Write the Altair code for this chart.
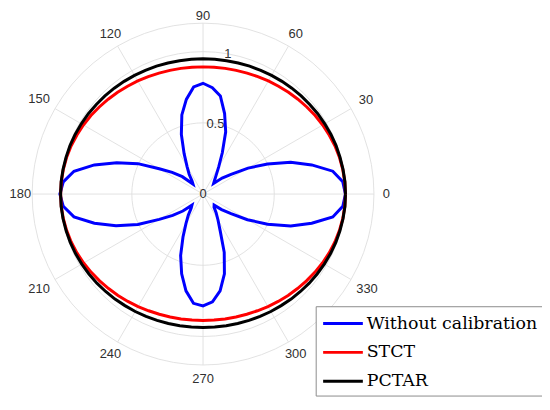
import altair as alt
import pandas as pd

# ---- data (polar: angle in degrees, radius) ----
angles = [0, 5, 10, 15, 20, 25, 30, 35, 40, 45, 50, 55, 60, 65, 70, 75, 80, 85, 90,
          95, 100, 105, 110, 115, 120, 125, 130, 135, 140, 145, 150, 155, 160, 165, 170, 175, 180,
          185, 190, 195, 200, 205, 210, 215, 220, 225, 230, 235, 240, 245, 250, 255, 260, 265, 270,
          275, 280, 285, 290, 295, 300, 305, 310, 315, 320, 325, 330, 335, 340, 345, 350, 355, 360]

without_calibration = [
    1.000, 0.985, 0.925, 0.790, 0.655, 0.500, 0.365, 0.240, 0.175, 0.105, 0.125, 0.160, 0.220, 0.320, 0.465, 0.585, 0.700, 0.750, 0.778,
    0.755, 0.675, 0.575, 0.445, 0.315, 0.225, 0.170, 0.120, 0.100, 0.190, 0.265, 0.355, 0.505, 0.645, 0.790, 0.920, 0.985, 1.005,
    0.985, 0.920, 0.790, 0.650, 0.505, 0.355, 0.260, 0.185, 0.110, 0.130, 0.180, 0.240, 0.333, 0.460, 0.580, 0.690, 0.770, 0.785,
    0.760, 0.690, 0.580, 0.435, 0.285, 0.210, 0.160, 0.120, 0.110, 0.170, 0.240, 0.360, 0.500, 0.655, 0.790, 0.925, 0.985, 1.000]

stct = [
    1.000, 0.999, 0.996, 0.992, 0.986, 0.978, 0.970, 0.961, 0.951, 0.942, 0.933, 0.924, 0.917, 0.910, 0.904, 0.899, 0.896, 0.894, 0.893,
    0.894, 0.896, 0.899, 0.904, 0.910, 0.917, 0.924, 0.933, 0.942, 0.951, 0.961, 0.970, 0.978, 0.986, 0.992, 0.996, 0.999, 1.000,
    0.999, 0.996, 0.991, 0.985, 0.977, 0.968, 0.958, 0.948, 0.938, 0.929, 0.920, 0.912, 0.904, 0.898, 0.893, 0.890, 0.888, 0.887,
    0.888, 0.890, 0.893, 0.898, 0.904, 0.912, 0.920, 0.929, 0.938, 0.948, 0.958, 0.968, 0.977, 0.985, 0.991, 0.996, 0.999, 1.000]

pctar = [
    1.000, 1.000, 0.998, 0.996, 0.994, 0.991, 0.987, 0.983, 0.978, 0.974, 0.970, 0.966, 0.962, 0.958, 0.956, 0.953, 0.951, 0.950, 0.950,
    0.950, 0.951, 0.953, 0.956, 0.958, 0.962, 0.966, 0.970, 0.974, 0.978, 0.983, 0.987, 0.991, 0.994, 0.996, 0.998, 1.000, 1.000,
    1.000, 0.998, 0.995, 0.992, 0.988, 0.983, 0.978, 0.973, 0.967, 0.962, 0.956, 0.952, 0.947, 0.944, 0.941, 0.939, 0.937, 0.937,
    0.937, 0.939, 0.941, 0.944, 0.947, 0.952, 0.956, 0.962, 0.967, 0.973, 0.978, 0.983, 0.988, 0.992, 0.995, 0.998, 1.000, 1.000]

series_names = ["Without calibration", "STCT", "PCTAR"]
series_colors = ["#0000ff", "#ff0000", "#000000"]

ring_radii = [0.5, 1.0, 1.2]          # grid circles (1.2 = outer edge)
spoke_angles = [0, 30, 60, 90, 120, 150, 180, 210, 240, 270, 300, 330]
theta_labels = ["0", "30", "60", "90", "120", "150", "180", "210", "240", "270", "300", "330"]
r_tick_values = [0, 0.5, 1]
r_tick_labels = ["0", "0.5", "1"]
r_tick_angle = 80
r_max = 1.2

# ---- layout ----
W, H = 538, 390
U = 143.5                      # pixels per radial unit
cx, cy = 196.5, 186.0          # centre inside the plot area
xmin, xmax = -cx / U, (W - cx) / U
ymin, ymax = -(H - cy) / U, cy / U

X = lambda f: alt.X(f, type="quantitative", scale=alt.Scale(domain=[xmin, xmax], nice=False, zero=False), axis=None)
Y = lambda f: alt.Y(f, type="quantitative", scale=alt.Scale(domain=[ymin, ymax], nice=False, zero=False), axis=None)

# ---- tables ----
curve_rows = []
for name, vals in zip(series_names, [without_calibration, stct, pctar]):
    for i, (a, r) in enumerate(zip(angles, vals)):
        curve_rows.append({"series": name, "idx": i, "theta": a, "r": r})
curves = pd.DataFrame(curve_rows)

ring_rows = []
for rr in ring_radii:
    for i, a in enumerate(angles):
        ring_rows.append({"ring": rr, "idx": i, "theta": a, "r": rr})
rings = pd.DataFrame(ring_rows)

spokes = pd.DataFrame({"theta": spoke_angles, "r": [r_max] * len(spoke_angles)})
tlabels = pd.DataFrame({"theta": spoke_angles, "label": theta_labels})
rlabels = pd.DataFrame({"r": r_tick_values, "label": r_tick_labels, "theta": [r_tick_angle] * len(r_tick_values)})

polar = dict(x="datum.r*cos(datum.theta*PI/180)", y="datum.r*sin(datum.theta*PI/180)")

grid_color = "#dedede"
text_color = "#303030"

ring_layer = alt.Chart(rings).transform_calculate(**polar).mark_line(
    color=grid_color, strokeWidth=0.9).encode(
    x=X("x"), y=Y("y"), detail="ring:N", order="idx:Q")

spoke_layer = alt.Chart(spokes).transform_calculate(
    x0="0", y0="0", **polar).mark_rule(color=grid_color, strokeWidth=0.9).encode(
    x=X("x0"), y=Y("y0"), x2="x:Q", y2="y:Q")

hw = 3.65 / U     # half width per character (units)
hh = 4.8 / U      # half height (units)
tl_layer = alt.Chart(tlabels).transform_calculate(
    c="cos(datum.theta*PI/180)", s="sin(datum.theta*PI/180)",
    hw=f"{hw}*length(datum.label)",
).transform_calculate(
    t=f"min(abs(datum.c) > 1e-6 ? datum.hw/abs(datum.c) : 99, abs(datum.s) > 1e-6 ? {hh}/abs(datum.s) : 99)",
).transform_calculate(
    x=f"max((1.262 + datum.t)*datum.c, {xmin} + datum.hw + 0.01)",
    y=f"min((1.262 + datum.t)*datum.s, {ymax} - {hh} - 0.01)",
).mark_text(font="Liberation Sans", fontSize=13, color=text_color, align="center", baseline="middle").encode(
    x=X("x"), y=Y("y"), text="label:N")

rl_layer = alt.Chart(rlabels).transform_calculate(**polar).mark_text(
    font="Liberation Sans", fontSize=13, color=text_color, align="center", baseline="middle").encode(
    x=X("x"), y=Y("y"), text="label:N")

# legend line sample: custom horizontal stroke twice as wide as the symbol box
legend = alt.Legend(
    title=None, orient="none", legendX=310, legendY=299,
    symbolType="M-2,0H2", symbolSize=400, symbolStrokeWidth=3, symbolOffset=10,
    labelFont="DejaVu Serif", labelFontSize=17.5, labelColor="black", labelLimit=0,
    labelOffset=12.4, padding=6, rowPadding=9,
    fillColor="white", strokeColor="#8c8c8c",
)
color = alt.Color("series:N", scale=alt.Scale(domain=series_names, range=series_colors), legend=legend)


def curve_layer(name):
    return alt.Chart(curves).transform_filter(alt.datum.series == name).transform_calculate(**polar).mark_line(
        strokeWidth=3).encode(x=X("x"), y=Y("y"), order="idx:Q", color=color)


chart = alt.layer(
    ring_layer, spoke_layer, tl_layer, rl_layer,
    curve_layer("Without calibration"), curve_layer("STCT"), curve_layer("PCTAR"),
).properties(
    width=W, height=H, padding=0, autosize=alt.AutoSizeParams(type="none"), background="white"
).configure_view(stroke=None)

chart.save("out.html", embed_options={"renderer": "svg", "actions": False})
